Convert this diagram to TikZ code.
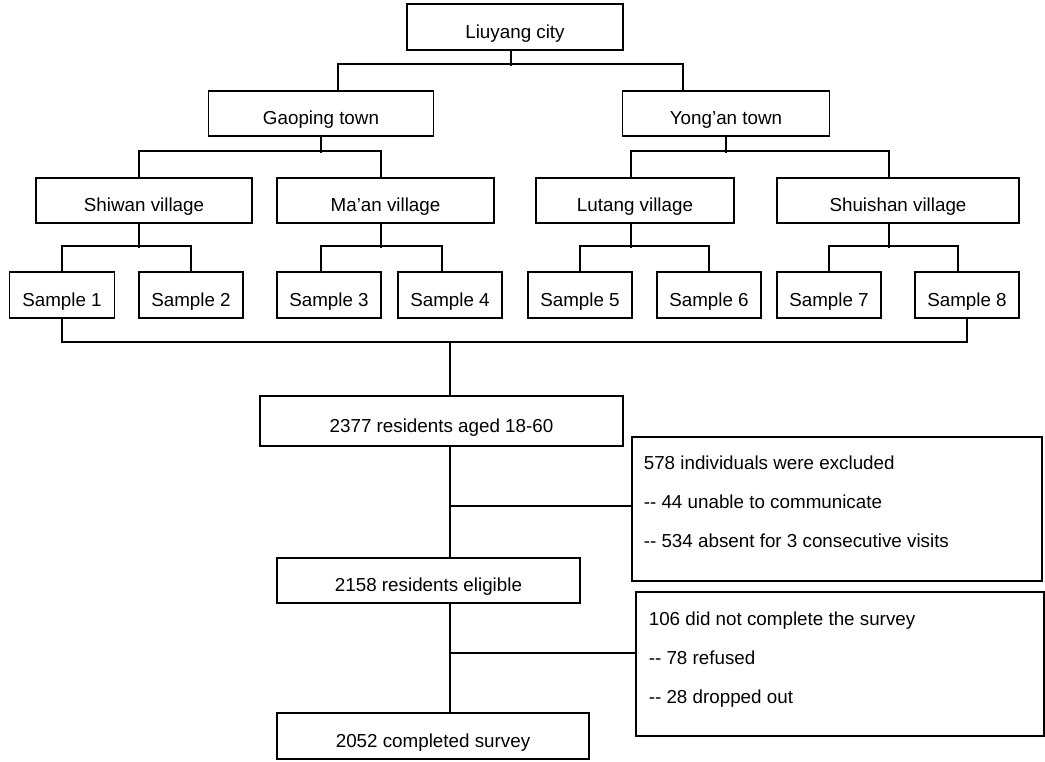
\documentclass[tikz,border=0pt]{standalone}
\usepackage{fontspec}
\setmainfont{Liberation Sans}
\newcommand{\dd}{\mbox{-}\mbox{-}}

\begin{document}
\begin{tikzpicture}[x=0.75pt, y=-0.75pt, line width=1.2pt,
  font=\fontsize{14.1}{17}\selectfont,
  unit/.style={draw, inner sep=0pt, text height=20pt, text depth=3.5pt},
  boxsize/.style 2 args={minimum width=#1*0.75pt, minimum height=#2*0.75pt},
  listtext/.style={align=left, inner sep=0pt, anchor=west, font=\fontsize{14.1}{29.25}\selectfont}]
  \useasboundingbox (0,0) rectangle (1045,761);
  % Nodes
  \node[unit, boxsize={216}{46}] (city) at (515,27) {Liuyang city};
  \node[unit, boxsize={225}{45}] (gaoping) at (321,113.5) {Gaoping town};
  \node[unit, boxsize={207}{45}] (yongan) at (726,113.5) {Yong’an town};
  \node[unit, boxsize={216}{45}] (shiwan) at (144,200.5) {Shiwan village};
  \node[unit, boxsize={217}{45}] (maan) at (385.5,200.5) {Ma’an village};
  \node[unit, boxsize={198}{45}] (lutang) at (635,200.5) {Lutang village};
  \node[unit, boxsize={242}{45}] (shuishan) at (898,200.5) {Shuishan village};
  \node[unit, boxsize={105}{46}] (s1) at (62,295) {Sample 1};
  \node[unit, boxsize={104}{46}] (s2) at (191,295) {Sample 2};
  \node[unit, boxsize={104}{46}] (s3) at (329,295) {Sample 3};
  \node[unit, boxsize={104}{46}] (s4) at (450,295) {Sample 4};
  \node[unit, boxsize={104}{46}] (s5) at (580,295) {Sample 5};
  \node[unit, boxsize={104}{46}] (s6) at (709,295) {Sample 6};
  \node[unit, boxsize={104}{46}] (s7) at (829,295) {Sample 7};
  \node[unit, boxsize={104}{46}] (s8) at (967,295) {Sample 8};
  \node[unit, boxsize={363}{50}] (res) at (441.5,421) {2377 residents aged 18-60};
  \node[unit, boxsize={303}{45}] (elig) at (428.5,580.5) {2158 residents eligible};
  \node[unit, boxsize={312}{46}] (done) at (433,736) {2052 completed survey};
  \node[draw, boxsize={410}{144}] (excl) at (837,509) {};
  \node[draw, boxsize={408}{144}] (drop) at (840,664) {};
  \node[listtext] (excltxt) at (643,502) {578 individuals were excluded\\ \dd{} 44 unable to communicate\\ \dd{} 534 absent for 3 consecutive visits};
  \node[listtext] (droptxt) at (648,660) {106 did not complete the survey\\ \dd{} 78 refused\\ \dd{} 28 dropped out};
  \coordinate (trunk) at (450,342);
  \coordinate (b1) at (450,506);
  \coordinate (b2) at (450,653);
  % City to towns
  \draw ([xshift=-3pt]city.south) -- ++(0,15);
  \draw ([xshift=12.75pt]gaoping.north) -- ++(0,-26) -| ([xshift=-32.25pt]yongan.north);
  % Towns to villages
  \draw (gaoping.south) -- ++(0,16);
  \draw ([xshift=-3.75pt]shiwan.north) -- ++(0,-26) -| ([xshift=-3.4pt]maan.north);
  \draw (yongan.south) -- ++(0,16);
  \draw ([xshift=-3pt]lutang.north) -- ++(0,-26) -| ([xshift=-6.75pt]shuishan.north);
  % Villages to samples
  \draw ([xshift=-3.75pt]shiwan.south) -- ++(0,24);
  \draw (s1.north) -- ++(0,-25) -| (s2.north);
  \draw ([xshift=-3.4pt]maan.south) -- ++(0,24);
  \draw ([xshift=-6pt]s3.north) -- ++(0,-25) -| ([xshift=-6pt]s4.north);
  \draw ([xshift=-3pt]lutang.south) -- ++(0,24);
  \draw (s5.north) -- ++(0,-25) -| (s6.north);
  \draw ([xshift=-6.75pt]shuishan.south) -- ++(0,24);
  \draw (s7.north) -- ++(0,-25) -| ([xshift=-6.75pt]s8.north);
  % Samples down to the survey flow
  \draw (s1.south) |- (trunk) -| (s8.south);
  \draw (trunk) -- (trunk |- res.north);
  \draw (res.south -| trunk) -- (elig.north -| trunk);
  \draw (elig.south -| trunk) -- (done.north -| trunk);
  % Exclusions
  \draw (b1) -- (b1 -| excl.west);
  \draw (b2) -- (b2 -| drop.west);
\end{tikzpicture}
\end{document}
